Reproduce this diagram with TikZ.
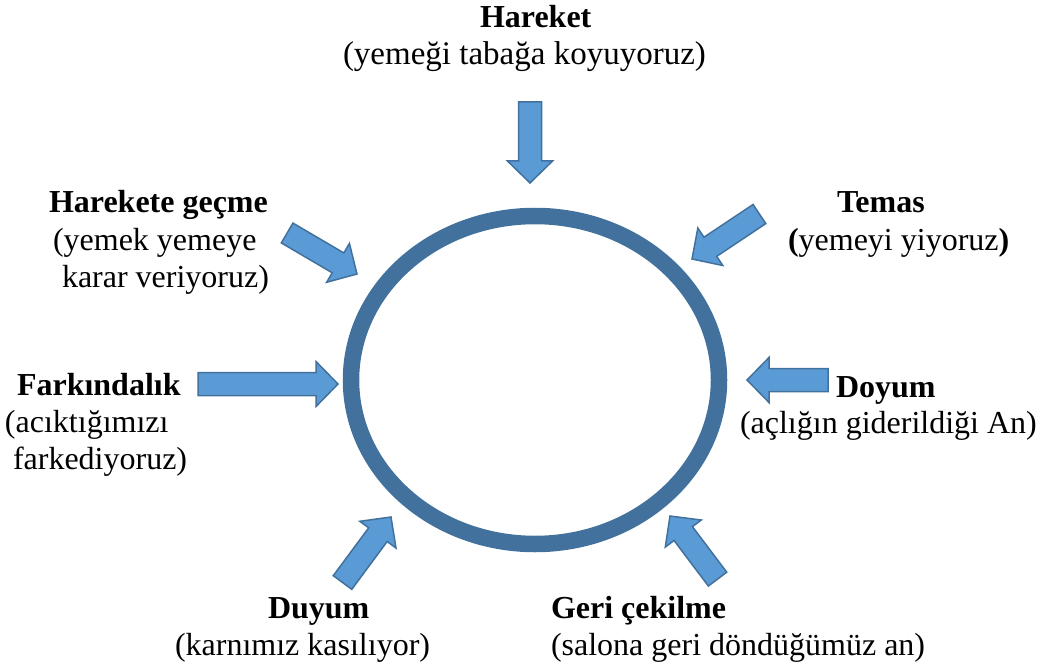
\documentclass[tikz,border=0pt]{standalone}
\usepackage{fontspec}
\setmainfont{Liberation Serif}
\definecolor{ringblue}{HTML}{41719C}
\definecolor{arrowfill}{HTML}{5B9BD5}
\tikzset{
  lbl/.style={anchor=base west, inner sep=0pt, outer sep=0pt, font=\fontsize{32}{37}\selectfont},
  ttl/.style={lbl, font=\fontsize{32}{37}\selectfont\bfseries},
  blk/.style={draw=ringblue, fill=arrowfill, line width=1.5pt, line join=miter},
  ring/.style={draw=ringblue, line width=16.5pt}
}
\newcommand\blkarrow[3]{%
  \draw[blk, shift={(#1)}, rotate=#2] (0,0) -- (-22,22.5) -- (-22,11.5) -- (-#3,11.5) -- (-#3,-11.5) -- (-22,-11.5) -- (-22,-22.5) -- cycle;}
\begin{document}
\begin{tikzpicture}[x=1pt,y=1pt]
\useasboundingbox (0,0) rectangle (1048,-668);
% ring
\draw[ring] (535,-380) ellipse [x radius=184, y radius=164];
% arrows (tip, angle, length)
\blkarrow{530,-183}{-90}{81}
\blkarrow{357,-274}{-30.4}{81}
\blkarrow{692,-259}{-146.3}{81}
\blkarrow{338,-384}{0}{140}
\blkarrow{747,-380}{180}{81}
\blkarrow{391,-517}{53.5}{81.5}
\blkarrow{670,-516}{127}{79}
% labels
\node[ttl] (hareketT) at (480,-28) {Hareket};
\node[lbl, font=\fontsize{33}{37}\selectfont] (hareketS) at (343,-65) {(yemeği tabağa koyuyoruz)};
\node[ttl] (gecmeT) at (49,-213) {Harekete geçme};
\node[lbl] (gecmeS1) at (53,-250) {(yemek yemeye};
\node[lbl] (gecmeS2) at (62,-287) {karar veriyoruz)};
\node[ttl] (farkT) at (17,-395) {Farkındalık};
\node[lbl] (farkS1) at (5,-432) {(acıktığımızı};
\node[lbl] (farkS2) at (13,-469) {farkediyoruz)};
\node[ttl] (temasT) at (837,-213) {Temas};
\node[lbl] (temasS) at (788,-250) {\textbf{(}yemeyi yiyoruz\textbf{)}};
\node[ttl] (doyumT) at (836,-397) {Doyum};
\node[lbl] (doyumS) at (740,-433) {(açlığın giderildiği An)};
\node[ttl] (duyumT) at (268,-618) {Duyum};
\node[lbl] (duyumS) at (175,-655) {(karnımız kasılıyor)};
\node[ttl] (geriT) at (551,-618) {Geri çekilme};
\node[lbl] (geriS) at (551,-655) {(salona geri döndüğümüz an)};
\end{tikzpicture}
\end{document}
